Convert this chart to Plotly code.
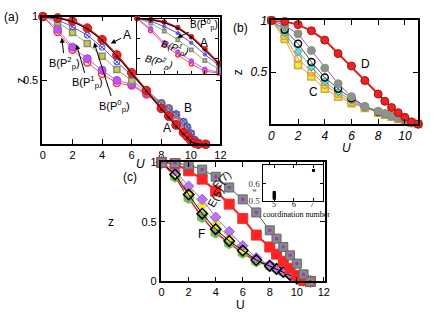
import plotly.graph_objects as go

W, H = 436, 323

# ---- panel (a) ----
U_a = [0, 1, 2, 3, 4, 5, 6, 7, 8, 8.5, 9, 9.5, 9.75, 10, 10.25, 10.5, 11]
a_A_red = [1, 0.99, 0.965, 0.91, 0.82, 0.70, 0.56, 0.42, 0.28, 0.22, 0.15, 0.09, 0.06, 0.03, 0.01, 0, 0]
a_A_black = [1, 0.99, 0.96, 0.905, 0.815, 0.69, 0.555, 0.415, 0.275, 0.21, 0.14, 0.08, 0.05, 0.02, 0.005, 0, 0]
a_B_P0 = [1, 0.975, 0.92, 0.855, 0.76, 0.645, 0.54, 0.43, 0.32, 0.28, 0.24, 0.18, 0.14, 0.09, 0.04, 0.01, 0]
a_B_P1 = [1, 0.955, 0.875, 0.79, 0.69, 0.585, 0.50, 0.41, 0.32, 0.28, 0.23, 0.17, 0.13, 0.08, 0.03, 0.01, 0]
a_B_P2 = [1, 0.90, 0.76, 0.67, 0.58, 0.50, 0.47, 0.40, 0.32, 0.28, 0.23, 0.17, 0.13, 0.08, 0.03, 0.01, 0]
a_B_P2_open = [1, 0.88, 0.74, 0.64, 0.55, 0.48, 0.46, 0.39, 0.30, 0.26, 0.21, 0.15, 0.11, 0.07, 0.02, 0, 0]

# ---- panel (b) ----
U_b = [0, 1, 2, 3, 4, 5, 6, 7, 8, 8.5, 9, 9.5, 10, 10.5, 11]
b_D = [1, 0.99, 0.96, 0.90, 0.81, 0.68, 0.56, 0.42, 0.29, 0.22, 0.16, 0.11, 0.065, 0.02, 0]
b_C_purple = [1, 0.95, 0.87, 0.71, 0.54, 0.39, 0.265, 0.17, 0.125, 0.10, 0.08, 0.06, 0.04, 0.02, 0]
b_C_black = [1, 0.91, 0.775, 0.60, 0.45, 0.34, 0.25, 0.17, 0.12, 0.10, 0.08, 0.06, 0.04, 0.02, 0]
b_C_cyan = [1, 0.88, 0.70, 0.55, 0.41, 0.31, 0.23, 0.16, 0.115, 0.095, 0.075, 0.055, 0.035, 0.015, 0]
b_C_orange = [1, 0.85, 0.63, 0.50, 0.38, 0.29, 0.21, 0.16, 0.11, 0.09, 0.07, 0.05, 0.03, 0.01, 0]
b_C_yellow = [1, 0.82, 0.57, 0.46, 0.34, 0.265, 0.20, 0.155, 0.11, 0.09, 0.07, 0.05, 0.03, 0.01, 0]

# ---- panel (c) ----
U_c = [0, 1, 2, 3, 4, 5, 6, 7, 8, 8.5, 9, 9.5, 10, 10.5, 11]
c_E7 = [1, 0.995, 0.98, 0.94, 0.88, 0.79, 0.69, 0.58, 0.43, 0.36, 0.29, 0.22, 0.15, 0.06, 0]
c_E5 = [1, 0.99, 0.93, 0.86, 0.76, 0.65, 0.53, 0.39, 0.29, 0.23, 0.17, 0.11, 0.05, 0.01, 0]
c_F_purple = [1, 0.93, 0.80, 0.69, 0.54, 0.42, 0.30, 0.20, 0.14, 0.11, 0.08, 0.05, 0.03, 0.01, 0]
c_F_yellow = [1, 0.91, 0.76, 0.64, 0.48, 0.37, 0.27, 0.19, 0.13, 0.10, 0.08, 0.05, 0.02, 0.01, 0]
c_F_black = [1, 0.90, 0.73, 0.57, 0.44, 0.34, 0.26, 0.18, 0.13, 0.105, 0.08, 0.055, 0.025, 0.01, 0]
c_F_gray = [1, 0.88, 0.70, 0.54, 0.41, 0.32, 0.24, 0.17, 0.13, 0.11, 0.08, 0.06, 0.03, 0.01, 0]
coord_num = [5, 5, 5, 5, 5, 5, 7]
coord_z = [0.515, 0.522, 0.529, 0.536, 0.543, 0.55, 0.68]
coord_ticks = [5, 6, 7]


def px(x):
    return x / W


def py(y):
    return 1 - y / H


fig = go.Figure()


def add(x, y, ax, **kw):
    xa, ya = ax
    fig.add_trace(go.Scatter(x=x, y=y, xaxis=xa, yaxis=ya, showlegend=False,
                             cliponaxis=False, **kw))


# panel (a) main + inset
for ax in [('x', 'y'), ('x2', 'y2')]:
    small = ax[0] == 'x2'
    s = 0.55 if small else 1.0
    add(U_a, a_B_P2_open, ax, mode='lines+markers', line=dict(color='#ff5555', width=1),
        marker=dict(symbol='circle-open', size=7 * s, color='#ff3333', line=dict(width=1.5)))
    add(U_a, a_B_P2, ax, mode='lines+markers', line=dict(color='#cc66ee', width=1),
        marker=dict(symbol='circle', size=8 * s, color='#bb55ee', line=dict(color='#aa44dd', width=1)))
    add(U_a, a_B_P1, ax, mode='lines+markers', line=dict(color='#99aa66', width=1),
        marker=dict(symbol='square', size=6 * s, color='#cccc33', line=dict(color='#888888', width=1.5)))
    add(U_a, a_B_P0, ax, mode='lines+markers', line=dict(color='#5555cc', width=1),
        marker=dict(symbol='circle-x-open', size=6 * s, color='#4444dd', line=dict(width=1)))
    add(U_a, a_A_red, ax, mode='lines+markers', line=dict(color='#dd2222', width=2),
        marker=dict(symbol='circle', size=8.5 * s, color='#ee2222', line=dict(color='#cc1111', width=1)))
    add(U_a, a_A_black, ax, mode='lines+markers', line=dict(color='black', width=1),
        marker=dict(symbol='circle', size=2.5, color='black'))

# panel (b)
add(U_b, b_C_yellow, ('x3', 'y3'), mode='lines+markers', line=dict(color='#ddaa33', width=1),
    marker=dict(symbol='square', size=7, color='#eeee33', line=dict(color='#ccaa44', width=1.5)))
add(U_b, b_C_orange, ('x3', 'y3'), mode='lines+markers', line=dict(color='#ee8833', width=1),
    marker=dict(symbol='circle-open', size=7, color='#ee9933', line=dict(width=1.5)))
add(U_b, b_C_cyan, ('x3', 'y3'), mode='lines+markers', line=dict(color='#33bbbb', width=1),
    marker=dict(symbol='diamond', size=6, color='#66dddd', line=dict(color='#339999', width=1)))
add(U_b, b_C_black, ('x3', 'y3'), mode='lines+markers', line=dict(color='#555555', width=1),
    marker=dict(symbol='circle-open', size=7, color='black', line=dict(width=1.5)))
add(U_b, b_C_purple, ('x3', 'y3'), mode='lines+markers', line=dict(color='#aa44ee', width=1),
    marker=dict(symbol='circle-cross', size=8, color='#bb66ee', line=dict(color='#66bb33', width=1)))
add(U_b, b_D, ('x3', 'y3'), mode='lines+markers', line=dict(color='#dd2222', width=2),
    marker=dict(symbol='circle', size=8, color='#ee2222', line=dict(color='#aa1111', width=1)))

# panel (c)
add(U_c, c_F_gray, ('x4', 'y4'), mode='lines+markers', line=dict(color='#dd2222', width=1.5),
    marker=dict(symbol='hexagon', size=10, color='#999999', line=dict(color='#66cc33', width=1.5)))
add(U_c, c_F_yellow, ('x4', 'y4'), mode='lines+markers', line=dict(color='#cccc33', width=1),
    marker=dict(symbol='diamond', size=8, color='#eeee22', line=dict(color='#ccdd66', width=1)))
add(U_c, c_F_purple, ('x4', 'y4'), mode='lines+markers', line=dict(color='#aa66ee', width=1),
    marker=dict(symbol='diamond', size=8, color='#bb77ee', line=dict(color='#9955dd', width=1)))
add(U_c, c_F_black, ('x4', 'y4'), mode='lines+markers', line=dict(color='black', width=1),
    marker=dict(symbol='diamond-open', size=8, color='black', line=dict(width=1.5)))
add(U_c, c_E5, ('x4', 'y4'), mode='lines+markers', line=dict(color='#ee2222', width=2),
    marker=dict(symbol='square', size=10, color='#ff2222', line=dict(color='#ee3333', width=1)))
add(U_c, c_E7, ('x4', 'y4'), mode='lines+markers', line=dict(color='#336633', width=1),
    marker=dict(symbol='square', size=9, color='#888888', line=dict(color='#666666', width=1)))
add(U_c, c_E7, ('x4', 'y4'), mode='markers',
    marker=dict(symbol='square', size=3, color='#9933cc'))
add(coord_num, coord_z, ('x5', 'y5'), mode='markers',
    marker=dict(symbol='square', size=3, color='black'))

axis_common = dict(showline=True, linecolor='black', linewidth=1.5, mirror='ticks',
                   ticks='inside', ticklen=5, tickcolor='black', showgrid=False,
                   zeroline=False, tickfont=dict(family='Liberation Sans', size=11, color='black'))
inset_axis = dict(showline=True, linecolor='black', linewidth=1, mirror='ticks',
                  ticks='inside', ticklen=3, tickcolor='black', showgrid=False,
                  zeroline=False)
italic_tick = dict(family='Liberation Sans', size=12, color='black', style='italic')

fig.update_layout(
    width=W, height=H,
    margin=dict(l=0, r=0, t=0, b=0),
    plot_bgcolor='white', paper_bgcolor='white',
    xaxis=dict(axis_common, domain=[px(40), px(222)], range=[-0.05, 12],
               tickvals=[0, 2, 4, 6, 8, 10, 12], anchor='y'),
    yaxis=dict(axis_common, domain=[py(143), py(10)], range=[0, 1],
               tickvals=[0.5, 1], ticktext=['0.5', '1'], anchor='x'),
    xaxis2=dict(inset_axis, domain=[px(137), px(220)], range=[0, 6],
                tickvals=[1, 2, 3, 4, 5], showticklabels=False, anchor='y2'),
    yaxis2=dict(inset_axis, domain=[py(70), py(12)], range=[0.45, 1],
                tickvals=[0.6, 0.8], showticklabels=False, anchor='x2'),
    xaxis3=dict(axis_common, domain=[px(274), px(424)], range=[0, 11],
                tickvals=[0, 2, 4, 6, 8, 10], anchor='y3', tickfont=italic_tick),
    yaxis3=dict(axis_common, domain=[py(122), py(14)], range=[0, 1],
                tickvals=[0.5, 1], ticktext=['0.5', '1'], anchor='x3', tickfont=italic_tick),
    xaxis4=dict(axis_common, domain=[px(161), px(329)], range=[-0.07, 12.1],
                tickvals=[0, 2, 4, 6, 8, 10, 12], anchor='y4'),
    yaxis4=dict(axis_common, domain=[py(286), py(162)], range=[0, 1],
                tickvals=[0, 0.5, 1], ticktext=['0', '0.5', '1'], anchor='x4'),
    xaxis5=dict(inset_axis, domain=[px(265), px(327)], range=[4.4, 7.5],
                tickvals=coord_ticks, showticklabels=False, anchor='y5'),
    yaxis5=dict(inset_axis, domain=[py(202), py(165)], range=[0.5, 0.71],
                tickvals=[0.5, 0.6], anchor='x5',
                tickfont=dict(family='Liberation Serif', size=9, color='#333333')),
)


def text(x, y, t, size=11, angle=0, italic=False, family='Liberation Sans', anchor='center'):
    f = dict(family=family, size=size, color='black')
    if italic:
        f['style'] = 'italic'
    fig.add_annotation(x=px(x), y=py(y), xref='paper', yref='paper', text=t,
                       showarrow=False, textangle=angle, font=f,
                       xanchor=anchor, yanchor='middle')


def arrow(hx, hy, tx, ty, t, size=11):
    fig.add_annotation(x=px(hx), y=py(hy), xref='paper', yref='paper', text=t,
                       showarrow=True, ax=tx - hx, ay=ty - hy, arrowhead=2,
                       arrowsize=1, arrowwidth=1, arrowcolor='black',
                       font=dict(family='Liberation Sans', size=size, color='black'))


# panel (a) text
text(9, 10, '(a)', 12)
text(18, 77, 'z', 12, angle=-90)
text(140, 164, 'U', 12, italic=True)
arrow(110, 38, 126, 30, 'A', 12)
arrow(60, 32, 63, 57, 'B(P<sup>2</sup><sub>p</sub>)')
arrow(75, 39, 86, 77, 'B(P<sup>1</sup><sub>p</sub>)')
arrow(93, 37, 113, 100, 'B(P<sup>0</sup><sub>p</sub>)')
text(189, 105, 'B', 12)
text(167, 126, 'A', 12)
arrow(178, 32, 205, 19, 'B(P<sup>0</sup><sub>p</sub>)', 10)
text(205, 37, 'A', 12)
text(176, 43, 'B(P<sup>1</sup><sub>p</sub>)', 10, angle=18, italic=True)
text(159, 57, 'B(P<sup>2</sup><sub>p</sub>)', 10, angle=15, italic=True)

# panel (b) text
text(242, 22, '(b)', 12)
text(240, 68, 'z', 12, angle=-90)
text(351, 147, 'U', 12, italic=True)
text(370, 59, 'D', 12)
text(317, 89, 'C', 12)

# panel (c) text
text(130, 177, '(c)', 12)
text(110, 224, 'z', 12)
text(243, 310, 'U', 12)
text(223, 180, 'E(7)', 11, angle=-45)
text(217, 198, 'E(5)', 11, angle=-60)
text(203, 237, 'F', 12)
text(257, 191, 'z', 7, angle=-90, family='Liberation Serif')
for v, xp in zip(coord_ticks, [277, 297, 316]):
    text(xp, 206, str(v), 8, family='Liberation Serif')
text(263, 216, 'coordination number', 8, family='Liberation Serif', anchor='left')

fig.write_html("out.html", config={'displayModeBar': False},
               post_script="document.body.style.margin='0';")
